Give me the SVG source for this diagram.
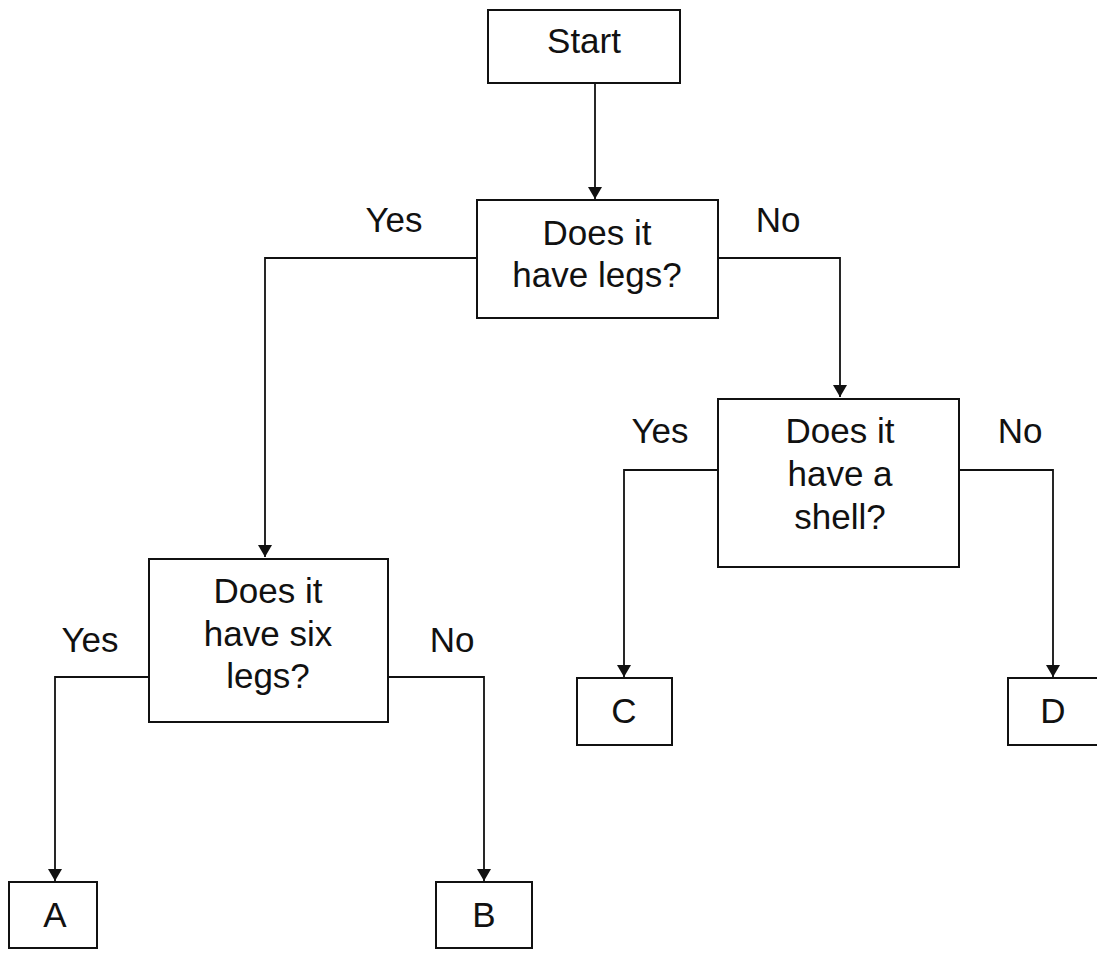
<svg xmlns="http://www.w3.org/2000/svg" width="1097" height="954" viewBox="0 0 1097 954">
<style>
.box{fill:#fff;stroke:#111;stroke-width:2}
.t{font-family:"Liberation Sans",Arial,sans-serif;font-size:35px;fill:#111;text-anchor:middle}
.c{fill:none;stroke:#111;stroke-width:1.8}
</style>
<defs>
<marker id="ah" viewBox="0 0 12 14" refX="12" refY="7" markerWidth="12" markerHeight="14" markerUnits="userSpaceOnUse" orient="auto">
<path d="M0,0 L12,7 L0,14 Z" fill="#111"/>
</marker>
</defs>
<rect width="1097" height="954" fill="#fff"/>
<g id="connectors">
<path class="c" d="M595,83 V199" marker-end="url(#ah)"/>
<path class="c" d="M477,258 H265 V557" marker-end="url(#ah)"/>
<path class="c" d="M718,258 H840 V397" marker-end="url(#ah)"/>
<path class="c" d="M149,677 H55 V881" marker-end="url(#ah)"/>
<path class="c" d="M388,677 H484 V881" marker-end="url(#ah)"/>
<path class="c" d="M718,470 H624 V677" marker-end="url(#ah)"/>
<path class="c" d="M959,470 H1053 V677" marker-end="url(#ah)"/>
</g>
<g id="labels">
<text class="t" x="394" y="232">Yes</text>
<text class="t" x="778" y="232">No</text>
<text class="t" x="90" y="652">Yes</text>
<text class="t" x="452" y="652">No</text>
<text class="t" x="660" y="443">Yes</text>
<text class="t" x="1020" y="443">No</text>
</g>
<g id="start"><rect class="box" x="488" y="10" width="192" height="73"/><text class="t" x="584" y="53">Start</text></g>
<g id="legs"><rect class="box" x="477" y="200" width="241" height="118"/><text class="t" x="597" y="245">Does it</text><text class="t" x="597" y="287">have legs?</text></g>
<g id="sixlegs"><rect class="box" x="149" y="559" width="239" height="163"/><text class="t" x="268" y="603">Does it</text><text class="t" x="268" y="646">have six</text><text class="t" x="268" y="688">legs?</text></g>
<g id="shell"><rect class="box" x="718" y="399" width="241" height="168"/><text class="t" x="840" y="443">Does it</text><text class="t" x="840" y="486">have a</text><text class="t" x="840" y="529">shell?</text></g>
<g id="A"><rect class="box" x="9" y="882" width="88" height="66"/><text class="t" x="55" y="927">A</text></g>
<g id="B"><rect class="box" x="436" y="882" width="96" height="66"/><text class="t" x="484" y="927">B</text></g>
<g id="C"><rect class="box" x="577" y="678" width="95" height="67"/><text class="t" x="624" y="723">C</text></g>
<g id="D"><rect class="box" x="1008" y="678" width="95" height="67"/><text class="t" x="1053" y="723">D</text></g>
</svg>
